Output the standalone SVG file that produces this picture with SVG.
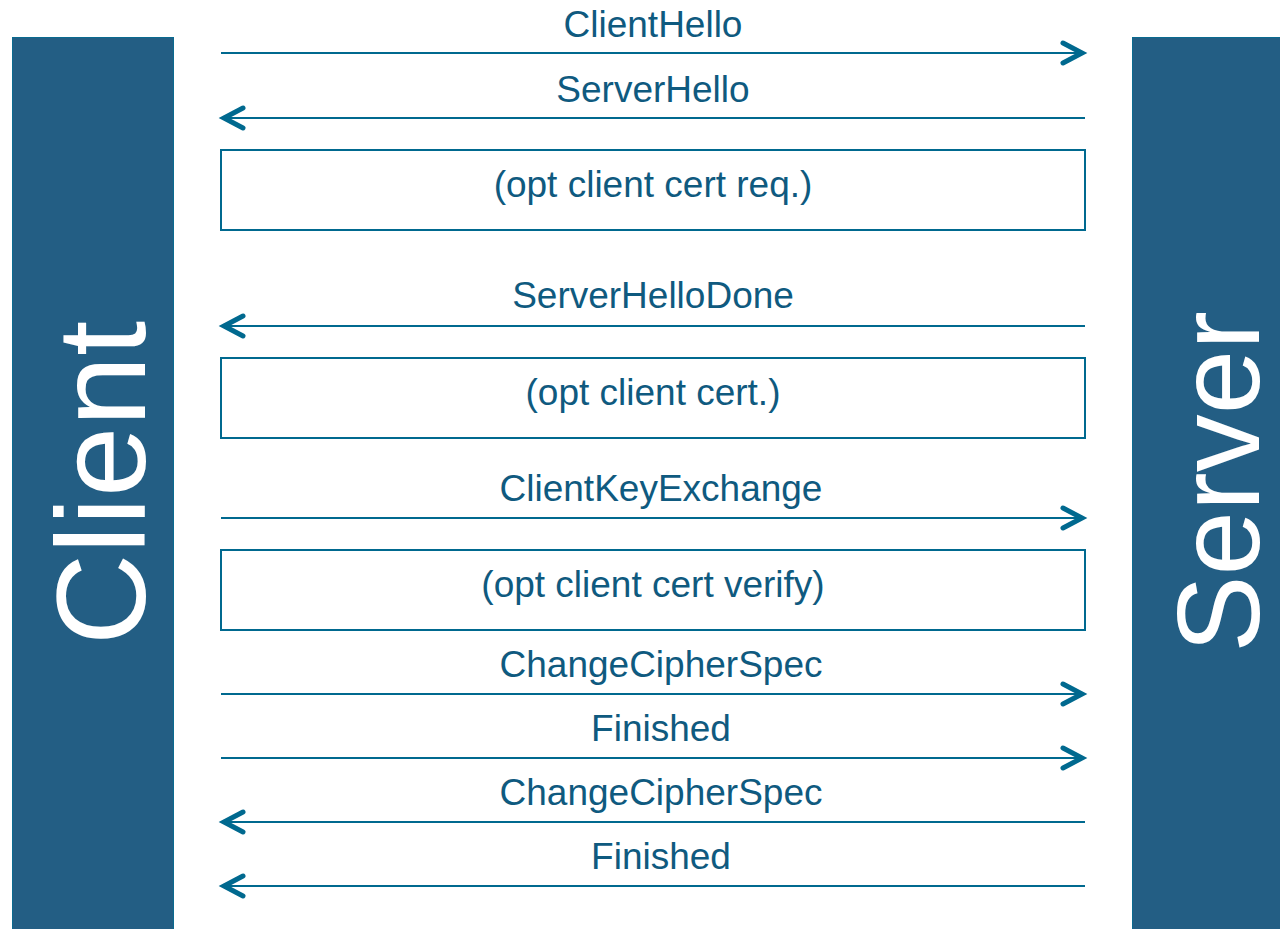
<svg xmlns="http://www.w3.org/2000/svg" width="1280" height="929" viewBox="0 0 1280 929">
<style>
.bar{fill:#235e84;stroke:#0a6a8f;stroke-width:1}
.big{font-family:"Liberation Sans",Arial,sans-serif;fill:#ffffff;text-anchor:middle}
.lbl{font-family:"Liberation Sans",Arial,sans-serif;font-size:37px;fill:#0f5a7f;text-anchor:middle}
.ln{stroke:#00698f;stroke-width:2;fill:none}
.box{fill:#ffffff;stroke:#00698f;stroke-width:2}
.hd{stroke:#00698f;stroke-width:5;fill:none;stroke-linecap:round;stroke-linejoin:miter}
</style>
<rect width="1280" height="929" fill="#ffffff"/>
<g id="client">
<rect class="bar" x="12.5" y="37.5" width="161" height="893"/>
<text class="big" font-size="127" transform="translate(145,483) rotate(-90)">Client</text>
</g>
<g id="server">
<rect class="bar" x="1132.5" y="37.5" width="150" height="893"/>
<text class="big" font-size="116" transform="translate(1259,482) rotate(-90)">Server</text>
</g>
<g id="box-cert-req">
<rect class="box" x="221" y="150" width="864" height="80"/>
<text class="lbl" x="653" y="197">(opt client cert req.)</text>
</g>
<g id="box-cert">
<rect class="box" x="221" y="358" width="864" height="80"/>
<text class="lbl" x="653" y="405">(opt client cert.)</text>
</g>
<g id="box-cert-verify">
<rect class="box" x="221" y="550" width="864" height="80"/>
<text class="lbl" x="653" y="597">(opt client cert verify)</text>
</g>
<g id="connectors">
<line class="ln" x1="221" y1="53" x2="1085" y2="53"/>
<polyline class="hd" points="1063,43 1082,53 1063,63"/>
<text class="lbl" x="653" y="37">ClientHello</text>

<line class="ln" x1="221" y1="118" x2="1085" y2="118"/>
<polyline class="hd" points="243,108 224,118 243,128"/>
<text class="lbl" x="653" y="102">ServerHello</text>

<line class="ln" x1="221" y1="326" x2="1085" y2="326"/>
<polyline class="hd" points="243,316 224,326 243,336"/>
<text class="lbl" x="653" y="308">ServerHelloDone</text>

<line class="ln" x1="221" y1="518" x2="1085" y2="518"/>
<polyline class="hd" points="1063,508 1082,518 1063,528"/>
<text class="lbl" x="661" y="501">ClientKeyExchange</text>

<line class="ln" x1="221" y1="694" x2="1085" y2="694"/>
<polyline class="hd" points="1063,684 1082,694 1063,704"/>
<text class="lbl" x="661" y="677">ChangeCipherSpec</text>

<line class="ln" x1="221" y1="758" x2="1085" y2="758"/>
<polyline class="hd" points="1063,748 1082,758 1063,768"/>
<text class="lbl" x="661" y="741">Finished</text>

<line class="ln" x1="221" y1="822" x2="1085" y2="822"/>
<polyline class="hd" points="243,812 224,822 243,832"/>
<text class="lbl" x="661" y="805">ChangeCipherSpec</text>

<line class="ln" x1="221" y1="886" x2="1085" y2="886"/>
<polyline class="hd" points="243,876 224,886 243,896"/>
<text class="lbl" x="661" y="869">Finished</text>
</g>
</svg>
